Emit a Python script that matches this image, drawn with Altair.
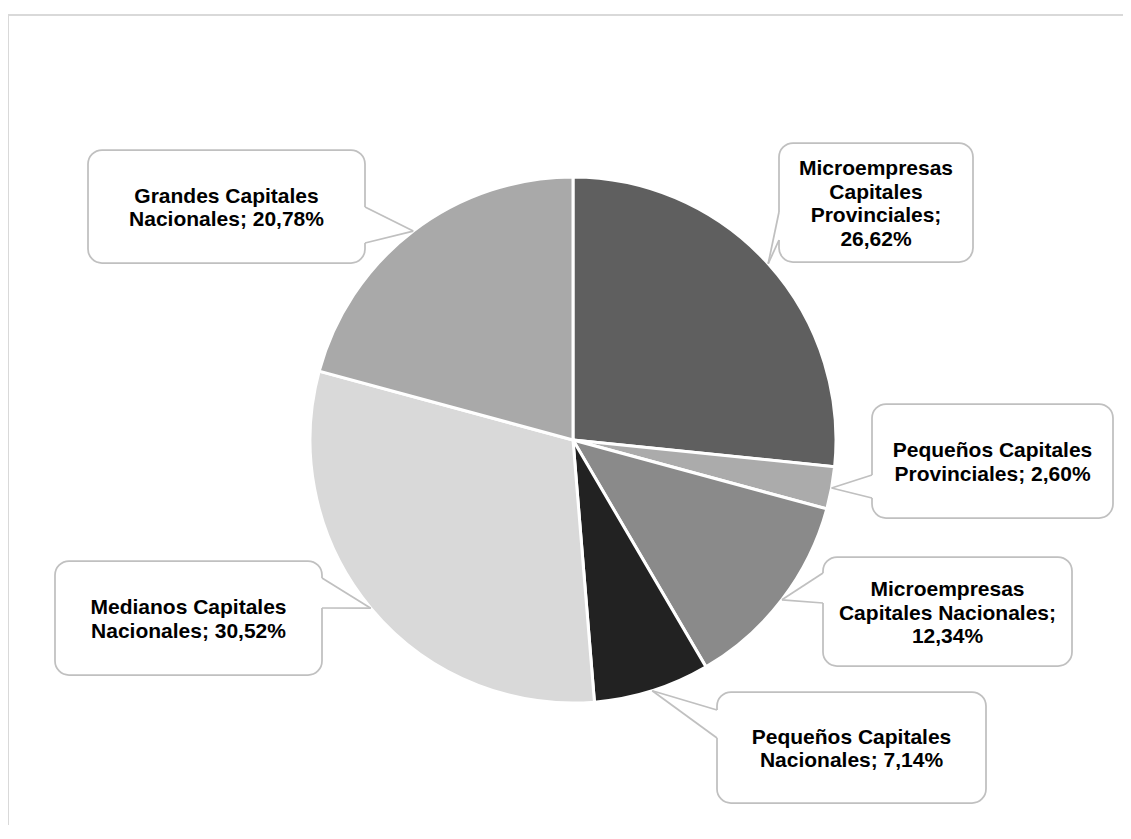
import altair as alt
import pandas as pd

# ---- data ----
categories = [
    "Microempresas Capitales Provinciales",
    "Pequeños Capitales Provinciales",
    "Microempresas Capitales Nacionales",
    "Pequeños Capitales Nacionales",
    "Medianos Capitales Nacionales",
    "Grandes Capitales Nacionales",
]
values = [26.62, 2.60, 12.34, 7.14, 30.52, 20.78]
label_templates = [
    "Microempresas\nCapitales\nProvinciales;\n{v}%",
    "Pequeños Capitales\nProvinciales; {v}%",
    "Microempresas\nCapitales Nacionales;\n{v}%",
    "Pequeños Capitales\nNacionales; {v}%",
    "Medianos Capitales\nNacionales; {v}%",
    "Grandes Capitales\nNacionales; {v}%",
]

# ---- styles ----
colors = ["#5f5f5f", "#ababab", "#8a8a8a", "#222222", "#d9d9d9", "#a9a9a9"]
LINE_H = 23.5
TEXT_SHIFT = 2

# ---- layout (pixels, relative to the pie centre; y down) ----
R = 263
W, H = 1115, 810
CX, CY = 565, 425
box_left = [206, 299, 250, 144, -518, -485]
box_right = [400, 540, 499, 413, -251, -208]
box_top = [-297, -36, 117, 252, 121, -290]
box_bottom = [-178, 78, 226, 363, 235, -177]
base_x = [206, 299, 250, 144, -251, -208]
base_top = [-228, 35, 133, 270, 138, -233]
base_bottom = [-200, 58, 163, 298, 168, -197]

def ux(p):
    return p / R

def uy(p):
    return -p / R

labels = [t.format(v=f"{v:.2f}".replace(".", ",")) for t, v in zip(label_templates, values)]
n_lines = [len(l.split("\n")) for l in labels]

df = pd.DataFrame({
    "cat": categories,
    "value": values,
    "order": list(range(len(categories))),
    "label": labels,
    "bx1": [ux(p) for p in box_left],
    "bx2": [ux(p) for p in box_right],
    "by1": [uy(p) for p in box_top],
    "by2": [uy(p) for p in box_bottom],
    "tx": [ux((a + b) / 2) for a, b in zip(box_left, box_right)],
    "ty": [uy((a + b) / 2 - (n - 1) * LINE_H / 2 + TEXT_SHIFT)
           for a, b, n in zip(box_top, box_bottom, n_lines)],
    "basex": [ux(p) for p in base_x],
    "basey1": [uy(p) for p in base_top],
    "basey2": [uy(p) for p in base_bottom],
})

xscale = alt.Scale(domain=[-CX / R, (W - CX) / R], nice=False, zero=False)
yscale = alt.Scale(domain=[(CY - H) / R, CY / R], nice=False, zero=False)

base = alt.Chart(df)

frame = alt.Chart(pd.DataFrame({"k": [0]}))
frame_top = frame.mark_rule(color="#d9d9d9", strokeWidth=2).encode(
    x=alt.value(0), x2=alt.value(W), y=alt.value(0))
frame_left = frame.mark_rule(color="#d9d9d9", strokeWidth=2).encode(
    x=alt.value(0), y=alt.value(0), y2=alt.value(H))

pie = base.mark_arc(outerRadius=R, stroke="white", strokeWidth=3).encode(
    theta=alt.Theta("value:Q", stack=True),
    order=alt.Order("order:Q"),
    color=alt.Color("cat:N", scale=alt.Scale(domain=categories, range=colors), legend=None),
    x=alt.X(datum=0, type="quantitative", scale=xscale, axis=None),
    y=alt.Y(datum=0, type="quantitative", scale=yscale, axis=None),
)

boxes = base.mark_rect(fill="white", stroke="#c0c0c0", strokeWidth=1.75, cornerRadius=14).encode(
    x=alt.X("bx1:Q", scale=xscale, axis=None), x2="bx2:Q",
    y=alt.Y("by1:Q", scale=yscale, axis=None), y2="by2:Q",
)

gap = base.mark_rule(color="white", strokeWidth=3).encode(
    x=alt.X("basex:Q", scale=xscale, axis=None),
    y=alt.Y("basey1:Q", scale=yscale, axis=None), y2="basey2:Q",
)

tips = (
    base.transform_joinaggregate(total="sum(value)")
    .transform_window(cum="sum(value)", sort=[alt.SortField("order")])
    .transform_calculate(
        mid="(datum.cum - datum.value / 2) / datum.total * 2 * PI",
        tipu="sin(datum.mid)",
        tipv="cos(datum.mid)",
    )
)
wedge1 = tips.mark_rule(color="#c0c0c0", strokeWidth=1.75).encode(
    x=alt.X("basex:Q", scale=xscale, axis=None), x2="tipu:Q",
    y=alt.Y("basey1:Q", scale=yscale, axis=None), y2="tipv:Q",
)
wedge2 = tips.mark_rule(color="#c0c0c0", strokeWidth=1.75).encode(
    x=alt.X("basex:Q", scale=xscale, axis=None), x2="tipu:Q",
    y=alt.Y("basey2:Q", scale=yscale, axis=None), y2="tipv:Q",
)

text = base.mark_text(
    font="Liberation Sans", fontSize=21, fontWeight="bold", lineBreak="\n",
    lineHeight=LINE_H, align="center", baseline="middle", color="black",
).encode(
    x=alt.X("tx:Q", scale=xscale, axis=None),
    y=alt.Y("ty:Q", scale=yscale, axis=None),
    text="label:N",
)

chart = alt.layer(frame_top, frame_left, pie, boxes, gap, wedge1, wedge2, text).properties(
    width=W, height=H,
    padding={"top": 7, "left": 0, "right": 0, "bottom": 0},
    autosize=alt.AutoSizeParams(type="none"),
).configure_view(stroke=None)

chart.save("out.html", embed_options={"renderer": "svg", "actions": False})
